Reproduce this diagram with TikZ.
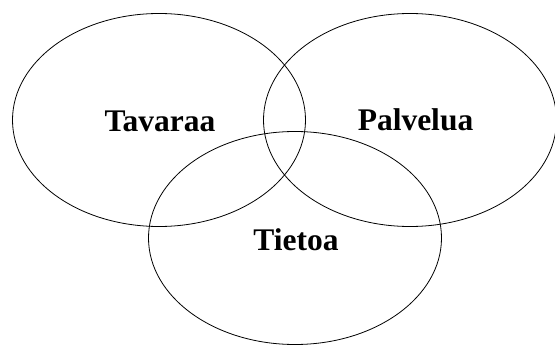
\documentclass[tikz,border=0pt]{standalone}
\usepackage{fontspec}
\setmainfont{Liberation Serif}
\usetikzlibrary{shapes.geometric}
\begin{document}
\begin{tikzpicture}[x=1pt,y=-1pt,
  setshape/.style={ellipse, draw=black, line width=0.8pt, minimum width=293pt, minimum height=213pt, inner sep=0pt},
  setlabel/.style={anchor=base, font=\fontsize{31.5}{36}\selectfont\bfseries, inner sep=0pt}]
\useasboundingbox (0,0) rectangle (555,345);
\node[setshape] (left) at (159,120) {};
\node[setshape] (right) at (410,120) {};
\node[setshape] (bottom) at (295,238) {};
\node[setlabel] (tavaraa) at (160,131.5) {Tavaraa};
\node[setlabel] (palvelua) at (415.5,131) {Palvelua};
\node[setlabel] (tietoa) at (296,250) {Tietoa};
\end{tikzpicture}
\end{document}
